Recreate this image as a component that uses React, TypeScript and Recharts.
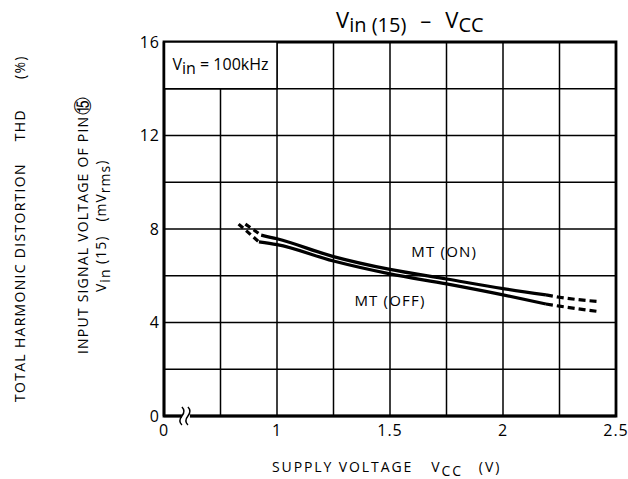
import {
  CartesianGrid,
  Line,
  LineChart,
  ReferenceArea,
  ReferenceDot,
  XAxis,
  YAxis,
} from "recharts";

const FONT = "'Open Sans', 'Noto Sans', sans-serif";

// supply voltage ticks (0.5 is drawn as "0" because of the axis break)
const xTicks = [0.5, 0.75, 1, 1.25, 1.5, 1.75, 2, 2.25, 2.5];
const xLabels: Record<string, string> = { "0.5": "0", "1": "1", "1.5": "1.5", "2": "2", "2.5": "2.5" };
const yTicks = [0, 2, 4, 6, 8, 10, 12, 14, 16];
const yLabels = [0, 4, 8, 12, 16];

// MT (ON)
const onSolid = [
  { x: 0.93, y: 7.74 },
  { x: 1.0, y: 7.58 },
  { x: 1.25, y: 6.82 },
  { x: 1.5, y: 6.27 },
  { x: 1.75, y: 5.86 },
  { x: 2.0, y: 5.45 },
  { x: 2.19, y: 5.18 },
];
const onDashLeft = [
  { x: 0.86, y: 8.21 },
  { x: 0.93, y: 7.74 },
];
const onDashRight = [
  { x: 2.19, y: 5.18 },
  { x: 2.25, y: 5.08 },
  { x: 2.43, y: 4.89 },
];

// MT (OFF)
const offSolid = [
  { x: 0.92, y: 7.45 },
  { x: 1.0, y: 7.33 },
  { x: 1.25, y: 6.63 },
  { x: 1.5, y: 6.08 },
  { x: 1.75, y: 5.65 },
  { x: 2.0, y: 5.18 },
  { x: 2.19, y: 4.79 },
];
const offDashLeft = [
  { x: 0.83, y: 8.21 },
  { x: 0.92, y: 7.45 },
];
const offDashRight = [
  { x: 2.19, y: 4.79 },
  { x: 2.25, y: 4.7 },
  { x: 2.43, y: 4.46 },
];

const curveLabels = [
  { x: 1.74, y: 7.02, text: "MT (ON)" },
  { x: 1.5, y: 4.92, text: "MT (OFF)" },
];

const AxisBreak = (props: any) => {
  const { cx, cy } = props;
  if (cx == null || cy == null) return null;
  return (
    <g>
      <rect x={cx - 4} y={cy - 4} width={8} height={8} fill="#fff" />
      <path
        d={`M${cx - 4},${cy - 9} q4,4 0,9 q-4,5 0,9`}
        fill="none"
        stroke="#000"
        strokeWidth={1.5}
      />
      <path
        d={`M${cx + 2},${cy - 9} q4,4 0,9 q-4,5 0,9`}
        fill="none"
        stroke="#000"
        strokeWidth={1.5}
      />
    </g>
  );
};

const BoxLabel = (props: any) => {
  const vb = props.viewBox;
  if (!vb) return null;
  return (
    <text
      x={vb.x + vb.width / 2}
      y={vb.y + vb.height / 2 + 5}
      textAnchor="middle"
      fontSize={16}
      fontFamily={FONT}
      fill="#000"
    >
      V<tspan dy={4}>in</tspan>
      <tspan dy={-4}> = 100kHz</tspan>
    </text>
  );
};

export default function App() {
  const lineProps = {
    type: "monotone" as const,
    dataKey: "y",
    stroke: "#000",
    strokeWidth: 3.2,
    dot: false,
    activeDot: false,
    isAnimationActive: false,
  };

  return (
    <div style={{ position: "absolute", left: 0, top: 0, width: 628, height: 479, background: "#fff" }}>
      <LineChart
        width={628}
        height={479}
        margin={{ top: 42, right: 12, left: 124, bottom: 33 }}
      >
        <CartesianGrid stroke="#000" strokeWidth={1.5} strokeOpacity={1} />
        <XAxis
          type="number"
          dataKey="x"
          domain={[0.5, 2.5]}
          ticks={xTicks}
          interval={0}
          allowDataOverflow
          tickFormatter={(v) => xLabels[String(v)] ?? ""}
          tickLine={false}
          tickSize={0}
          tickMargin={9}
          height={30}
          axisLine={{ stroke: "#000", strokeWidth: 2.5 }}
          tick={{ fill: "#000", fontSize: 16, fontFamily: FONT, letterSpacing: 1 }}
        />
        <YAxis
          type="number"
          domain={[0, 16]}
          ticks={yTicks}
          interval={0}
          tickFormatter={(v) => (yLabels.includes(v) ? String(v) : "")}
          tickLine={false}
          tickSize={0}
          tickMargin={4}
          width={40}
          axisLine={{ stroke: "#000", strokeWidth: 2.5 }}
          tick={{ fill: "#000", fontSize: 16, fontFamily: FONT, letterSpacing: 1 }}
        />
        <ReferenceArea
          x1={0.5}
          x2={2.5}
          y1={0}
          y2={16}
          fill="none"
          stroke="#000"
          strokeWidth={2.8}
        />
        <ReferenceArea
          x1={0.5}
          x2={1.0}
          y1={14}
          y2={16}
          fill="#fff"
          fillOpacity={1}
          stroke="#000"
          strokeWidth={1.5}
          label={<BoxLabel />}
        />
        <Line {...lineProps} data={onSolid} />
        <Line {...lineProps} data={onDashLeft} strokeDasharray="6 4" />
        <Line {...lineProps} data={onDashRight} strokeDasharray="7 4" />
        <Line {...lineProps} data={offSolid} />
        <Line {...lineProps} data={offDashLeft} strokeDasharray="6 4" />
        <Line {...lineProps} data={offDashRight} strokeDasharray="7 4" />
        {curveLabels.map((c) => (
          <ReferenceDot
            key={c.text}
            x={c.x}
            y={c.y}
            r={0}
            fill="none"
            stroke="none"
            label={{
              value: c.text,
              position: "center",
              fill: "#000",
              fontSize: 15,
              fontFamily: FONT,
              letterSpacing: 1.2,
            }}
          />
        ))}
        <ReferenceDot x={0.597} y={0} r={0} shape={<AxisBreak />} ifOverflow="visible" />
      </LineChart>
      <svg
        width={628}
        height={479}
        style={{ position: "absolute", left: 0, top: 0, pointerEvents: "none" }}
      >
        <text x={336} y={28} fontSize={22} fontFamily={FONT} fill="#000">
          V<tspan dy={4} fontSize={20}>in (15)</tspan>
          <tspan dy={-4} dx={14}>–</tspan>
          <tspan dx={14}>V</tspan>
          <tspan dy={4} fontSize={20}>CC</tspan>
        </text>
        <text x={272} y={472} fontSize={14} fontFamily={FONT} fill="#000" letterSpacing={1.9}>
          SUPPLY VOLTAGE
          <tspan dx={18}>V</tspan>
          <tspan dy={4}>CC</tspan>
          <tspan dy={-4} dx={16}>(V)</tspan>
        </text>
        <text
          transform="translate(25,402) rotate(-90)"
          fontSize={14}
          fontFamily={FONT}
          fill="#000"
          letterSpacing={1.3}
        >
          TOTAL HARMONIC DISTORTION
          <tspan dx={22}>THD</tspan>
          <tspan dx={30}>(%)</tspan>
        </text>
        <text
          transform="translate(88,354) rotate(-90)"
          fontSize={14}
          fontFamily={FONT}
          fill="#000"
          letterSpacing={1.2}
        >
          INPUT SIGNAL VOLTAGE OF PIN
          <tspan fontFamily="'DejaVu Sans', sans-serif" fontSize={18} dx={1} dy={1}>⑮</tspan>
        </text>
        <text
          transform="translate(106,292) rotate(-90)"
          fontSize={14}
          fontFamily={FONT}
          fill="#000"
          letterSpacing={1}
        >
          V<tspan dy={4}>in</tspan>
          <tspan dy={-4}> (15)</tspan>
          <tspan dx={14}>(mV</tspan>
          <tspan dy={4}>rms</tspan>
          <tspan dy={-4}>)</tspan>
        </text>
      </svg>
    </div>
  );
}
